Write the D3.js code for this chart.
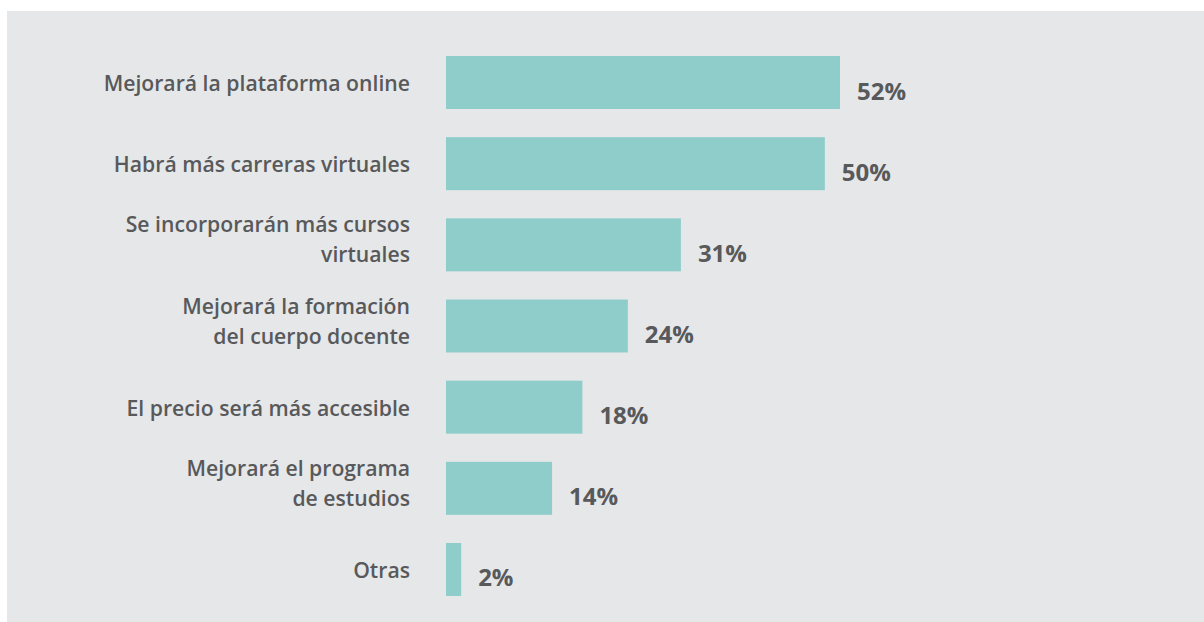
<!DOCTYPE html>
<html>
<head>
<meta charset="utf-8">
<script src="https://cdn.jsdelivr.net/npm/d3@7"></script>
<style>
  html, body { margin: 0; padding: 0; background: #ffffff; }
  svg { display: block; font-family: "Open Sans", sans-serif; }
</style>
</head>
<body>
<div class="BarChart"></div>
<script>
// Chart data
const categories = [
  ["Mejorará la plataforma online"],
  ["Habrá más carreras virtuales"],
  ["Se incorporarán más cursos", "virtuales"],
  ["Mejorará la formación", "del cuerpo docente"],
  ["El precio será más accesible"],
  ["Mejorará el programa", "de estudios"],
  ["Otras"]
];
const values = [52, 50, 31, 24, 18, 14, 2];

const width = 1204;
const height = 622;

const svg = d3.select(".BarChart")
  .append("svg")
  .attr("width", width)
  .attr("height", height);

// gray panel
svg.append("rect")
  .attr("x", 7)
  .attr("y", 11)
  .attr("width", width - 7)
  .attr("height", height - 11)
  .attr("fill", "#e6e7e9");

const rows = categories.map((c, i) => ({ lines: c, value: values[i] }));

const yScale = d3.scaleBand()
  .domain(d3.range(rows.length))
  .range([56, 596])
  .paddingInner(0.347)
  .paddingOuter(0);

const xScale = d3.scaleLinear()
  .domain([0, 52])
  .range([446, 840]);

// bars
svg.selectAll(".bar")
  .data(rows)
  .enter()
  .append("rect")
  .attr("class", "bar")
  .attr("x", xScale(0))
  .attr("y", (d, i) => yScale(i))
  .attr("width", (d) => xScale(d.value) - xScale(0))
  .attr("height", yScale.bandwidth())
  .attr("fill", "#8fcdcb");

// value labels
svg.selectAll(".value")
  .data(rows)
  .enter()
  .append("text")
  .attr("class", "value")
  .attr("x", (d) => xScale(d.value) + 17)
  .attr("y", (d, i) => yScale(i) + yScale.bandwidth() / 2 + 17)
  .attr("fill", "#58595b")
  .attr("font-size", "24px")
  .attr("font-weight", 700)
  .text((d) => d.value + "%");

// category labels
const labels = svg.selectAll(".label")
  .data(rows)
  .enter()
  .append("text")
  .attr("class", "label")
  .attr("text-anchor", "end")
  .attr("fill", "#58595b")
  .attr("font-size", "21.2px")
  .attr("font-weight", 600);

labels.each(function (d, i) {
  const mid = yScale(i) + yScale.bandwidth() / 2;
  const first = d.lines.length === 1 ? mid + 8.5 : mid - 12.5;
  d3.select(this)
    .selectAll("tspan")
    .data(d.lines)
    .enter()
    .append("tspan")
    .attr("x", 410)
    .attr("y", (t, j) => first + j * 30)
    .text((t) => t);
});
</script>
</body>
</html>
